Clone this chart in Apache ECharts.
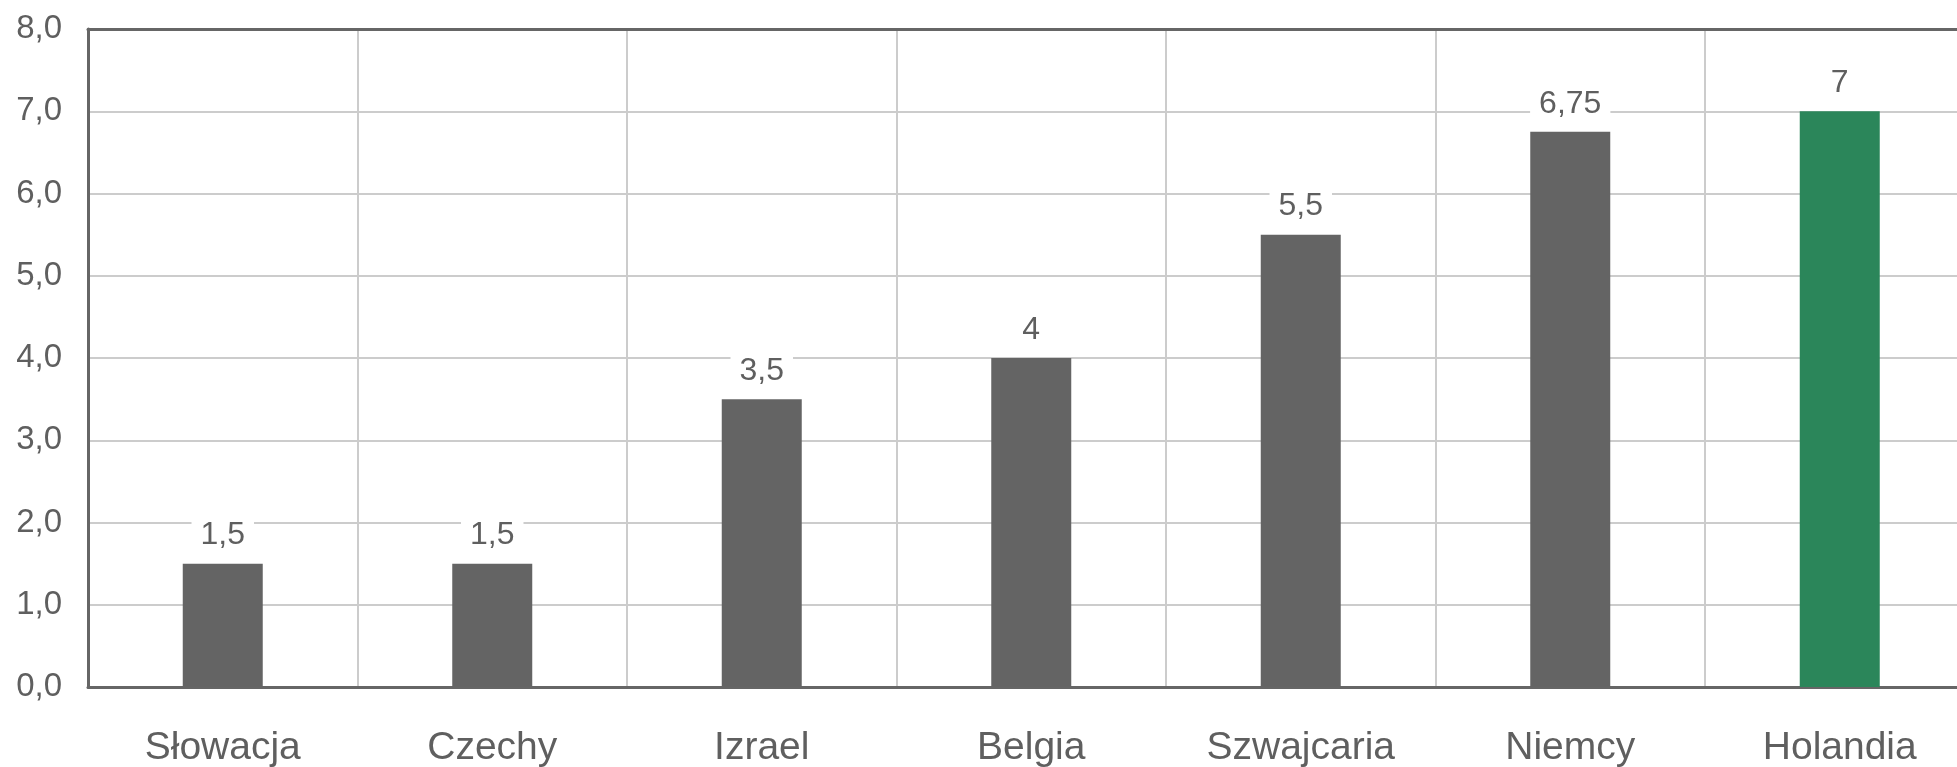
<!DOCTYPE html>
<html>
<head>
<meta charset="utf-8">
<script src="https://cdn.jsdelivr.net/npm/echarts@6/dist/echarts.min.js"></script>
<style>html,body{margin:0;padding:0;background:#fff;}#c{width:1957px;height:767px;}</style>
</head>
<body>
<div id="c"></div>
<script>
var categories = ['Słowacja', 'Czechy', 'Izrael', 'Belgia', 'Szwajcaria', 'Niemcy', 'Holandia'];
var values = [1.5, 1.5, 3.5, 4, 5.5, 6.75, 7];
var highlighted = ['Holandia'];
var yTicks = { min: 0, max: 8, interval: 1 };

var chart = echarts.init(document.getElementById('c'));
var data = values.map(function (v, i) {
  return {
    value: v,
    itemStyle: { color: highlighted.indexOf(categories[i]) >= 0 ? '#2b865a' : '#646464' }
  };
});
var font = 'Liberation Sans, Arial, sans-serif';
chart.setOption({
  animation: false,
  textStyle: { fontFamily: font },
  grid: {
    left: 88, top: 29, width: 1886.5, height: 658,
    outerBoundsMode: 'none',
    containLabel: false
  },
  xAxis: [{
    type: 'category',
    data: categories,
    axisLine: { show: true, lineStyle: { color: '#666666', width: 3 } },
    axisTick: { show: false },
    splitLine: { show: true, lineStyle: { color: '#cccccc', width: 2 } },
    axisLabel: { color: '#5f5f5f', fontSize: 39, margin: 42, fontFamily: font }
  }, {
    type: 'category',
    data: categories,
    position: 'top',
    z: 5,
    axisLine: { show: true, lineStyle: { color: '#666666', width: 3 } },
    axisTick: { show: false },
    axisLabel: { show: false },
    splitLine: { show: false }
  }],
  yAxis: {
    type: 'value',
    min: yTicks.min, max: yTicks.max, interval: yTicks.interval,
    axisLine: { show: true, lineStyle: { color: '#666666', width: 3 } },
    axisTick: { show: false },
    splitLine: { show: true, lineStyle: { color: '#cccccc', width: 2 } },
    axisLabel: {
      color: '#5f5f5f', fontSize: 33, margin: 26, fontFamily: font,
      formatter: function (v) { return v.toFixed(1).replace('.', ','); }
    }
  },
  series: [{
    type: 'bar',
    data: data,
    barWidth: 80,
    label: {
      show: true, position: 'top', distance: 12,
      color: '#5f5f5f', fontSize: 32, fontFamily: font,
      backgroundColor: '#ffffff', padding: [0, 9, 0, 9],
      formatter: function (p) { return String(p.value).replace('.', ','); }
    }
  }]
});
</script>
</body>
</html>
